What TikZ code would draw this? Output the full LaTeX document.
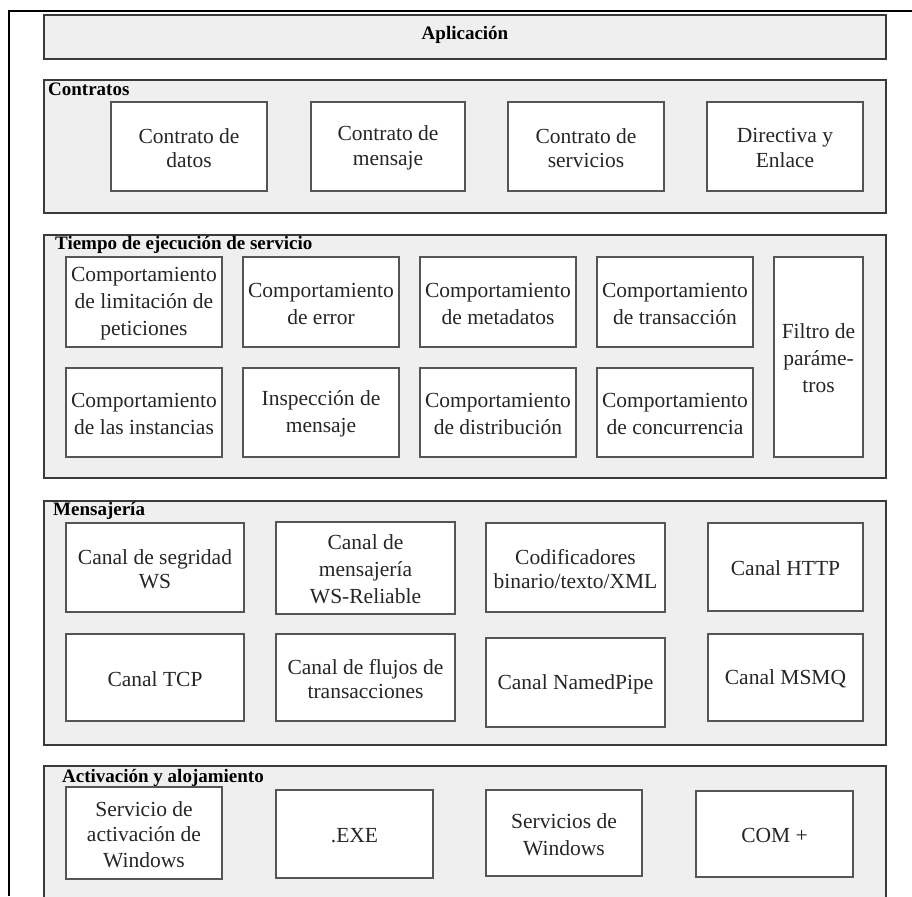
\documentclass[tikz,border=0pt]{standalone}
\usepackage{fontspec}
\setmainfont{Liberation Serif}
\usetikzlibrary{fit}
\definecolor{panelfill}{HTML}{EFEFEF}
\definecolor{panelline}{HTML}{3A3A3A}
\definecolor{boxline}{HTML}{555555}
\definecolor{txt}{HTML}{262626}
\newcommand\bodyfont{\fontsize{21.5}{24.5}\selectfont}
\newcommand\tallfont{\fontsize{21.5}{27}\selectfont}
\newcommand\headfont{\fontsize{19}{22}\selectfont\bfseries}
\tikzset{
  panel/.style={draw=panelline, fill=panelfill, line width=1.3pt, inner sep=0pt},
  box/.style={draw=boxline, fill=white, line width=1.8pt, inner sep=0pt},
  label/.style={text=txt, font=\bodyfont, align=center, inner sep=0pt, yshift=-1.5pt},
  tall/.style={label, font=\tallfont},
  head/.style={font=\headfont, anchor=base west, inner sep=0pt, text=black},
}
\begin{document}
\begin{tikzpicture}[x=1pt, y=-1pt]
\useasboundingbox (0,0) rectangle (912,896);

% outer frame (top and left edges)
\draw[line width=2pt, black] (912,11) -- (9,11) -- (9,896);

% layer panels
\node[panel, fit={(44,15) (886,59)}] (app) {};
\node[font=\headfont, inner sep=0pt] (apptitle) at (465,35) {Aplicación};

\node[panel, fit={(44,80) (886,213)}] (contratos) {};
\node[head] (hcontratos) at (48,96) {Contratos};

\node[panel, fit={(44,235) (886,478)}] (tiempo) {};
\node[head] (htiempo) at (55,249) {Tiempo de ejecución de servicio};

\node[panel, fit={(44,501) (886,745)}] (mens) {};
\node[head] (hmens) at (53,515) {Mensajería};

\node[panel, fit={(44,766) (886,905)}] (activ) {};
\node[head] (hactiv) at (62,782) {Activación y alojamiento};

% Contratos
\node[box, fit={(111,102) (267,191)}] (c1) {};
\node[label] (c1t) at (c1.center) {Contrato de\\datos};
\node[box, fit={(311,102) (465,191)}] (c2) {};
\node[label] (c2t) at (c2.center) {Contrato de\\mensaje};
\node[box, fit={(508,102) (664,191)}] (c3) {};
\node[label] (c3t) at (c3.center) {Contrato de\\servicios};
\node[box, fit={(707,102) (863,191)}] (c4) {};
\node[label] (c4t) at (c4.center) {Directiva y\\Enlace};

% Tiempo de ejecucion de servicio
\node[box, fit={(66,257) (222,347)}] (t1) {};
\node[tall] (t1t) at (t1.center) {Comportamiento\\de limitación de\\peticiones};
\node[box, fit={(243,257) (399,347)}] (t2) {};
\node[tall] (t2t) at (t2.center) {Comportamiento\\de error};
\node[box, fit={(420,257) (576,347)}] (t3) {};
\node[tall] (t3t) at (t3.center) {Comportamiento\\de metadatos};
\node[box, fit={(597,257) (753,347)}] (t4) {};
\node[tall] (t4t) at (t4.center) {Comportamiento\\de transacción};
\node[box, fit={(66,368) (222,457)}] (t5) {};
\node[tall] (t5t) at (t5.center) {Comportamiento\\de las instancias};
\node[box, fit={(243,368) (399,457)}] (t6) {};
\node[tall] (t6t) at (t6.center) {Inspección de\\mensaje};
\node[box, fit={(420,368) (576,457)}] (t7) {};
\node[tall] (t7t) at (t7.center) {Comportamiento\\de distribución};
\node[box, fit={(597,368) (753,457)}] (t8) {};
\node[tall] (t8t) at (t8.center) {Comportamiento\\de concurrencia};
\node[box, fit={(774,257) (863,457)}] (t9) {};
\node[tall] (t9t) at (t9.center) {Filtro de\\paráme-\\tros};

% Mensajeria
\node[box, fit={(66,523) (244,612)}] (m1) {};
\node[label] (m1t) at (m1.center) {Canal de segridad\\WS};
\node[box, fit={(276,522) (455,614)}] (m2) {};
\node[tall] (m2t) at (m2.center) {Canal de\\mensajería\\WS-Reliable};
\node[box, fit={(486,523) (665,612)}] (m3) {};
\node[label] (m3t) at (m3.center) {Codificadores\\binario/texto/XML};
\node[box, fit={(708,523) (863,611)}] (m4) {};
\node[label] (m4t) at (m4.center) {Canal HTTP};
\node[box, fit={(66,634) (244,721)}] (m5) {};
\node[label] (m5t) at (m5.center) {Canal TCP};
\node[box, fit={(276,634) (455,721)}] (m6) {};
\node[label] (m6t) at (m6.center) {Canal de flujos de\\transacciones};
\node[box, fit={(486,638) (665,727)}] (m7) {};
\node[label] (m7t) at (m7.center) {Canal NamedPipe};
\node[box, fit={(708,634) (863,721)}] (m8) {};
\node[label] (m8t) at (m8.center) {Canal MSMQ};

% Activacion y alojamiento
\node[box, fit={(66,787) (222,879)}] (a1) {};
\node[label, font=\fontsize{21.5}{25.5}\selectfont] (a1t) at (a1.center) {Servicio de\\activación de\\Windows};
\node[box, fit={(276,790) (433,878)}] (a2) {};
\node[label] (a2t) at (a2.center) {.EXE};
\node[box, fit={(486,790) (642,876)}] (a3) {};
\node[label, font=\fontsize{21.5}{26.5}\selectfont] (a3t) at (a3.center) {Servicios de\\Windows};
\node[box, fit={(696,791) (853,877)}] (a4) {};
\node[label] (a4t) at (a4.center) {COM +};
\end{tikzpicture}
\end{document}
